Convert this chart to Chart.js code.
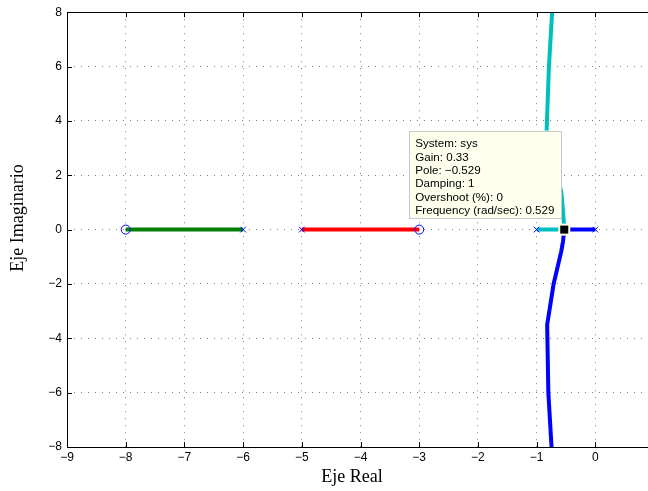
<!DOCTYPE html>
<html>
<head>
<meta charset="utf-8">
<script src="https://cdn.jsdelivr.net/npm/chart.js"></script>
<style>
  body { margin: 0; background: #fff; overflow: hidden; }
</style>
</head>
<body>
<canvas id="rlocus" width="670" height="491"></canvas>
<script>
// root locus data (real / imaginary parts)
const poleRe = [-6, -5, -1, 0];
const poleIm = [0, 0, 0, 0];
const zeroRe = [-8, -3];
const zeroIm = [0, 0];

const greenRe = [-6, -8];
const greenIm = [0, 0];
const redRe = [-5, -3];
const redIm = [0, 0];
const cyanRe = [-1, -0.529, -0.55, -0.58, -0.72, -0.83, -0.79, -0.73];
const cyanIm = [0, 0, 0.7, 1.4, 2.6, 3.6, 6, 8.2];
const blueRe = [0, -0.529, -0.55, -0.58, -0.71, -0.82, -0.8, -0.74];
const blueIm = [0, 0, -0.43, -0.8, -2, -3.5, -6, -8.2];

const xTicks = [-9, -8, -7, -6, -5, -4, -3, -2, -1, 0, 1];
const yTicks = [-8, -6, -4, -2, 0, 2, 4, 6, 8];

const tipRe = -0.529;
const tipIm = 0;
const tipLines = [
  "System: sys",
  "Gain: 0.33",
  "Pole: \u22120.529",
  "Damping: 1",
  "Overshoot (%): 0",
  "Frequency (rad/sec): 0.529",
];

function pts(re, im) {
  return re.map((v, i) => ({ x: v, y: im[i] }));
}

function lineSet(re, im, color) {
  return {
    data: pts(re, im),
    showLine: true,
    borderColor: color,
    borderWidth: 4,
    pointRadius: 0,
    pointHoverRadius: 0,
  };
}

const minus = (v) => String(v).replace("-", "\u2212");

const extras = {
  id: "extras",
  afterDatasetsDraw(chart) {
    const ctx = chart.ctx;
    const a = chart.chartArea;
    const xs = chart.scales.x;
    const ys = chart.scales.y;
    ctx.save();

    // inner ticks + box
    ctx.strokeStyle = "#000";
    ctx.lineWidth = 1;
    ctx.beginPath();
    xTicks.forEach((t) => {
      const px = Math.round(xs.getPixelForValue(t)) + 0.5;
      ctx.moveTo(px, a.bottom);
      ctx.lineTo(px, a.bottom - 5);
      ctx.moveTo(px, a.top);
      ctx.lineTo(px, a.top + 5);
    });
    yTicks.forEach((t) => {
      const py = Math.round(ys.getPixelForValue(t)) + 0.5;
      ctx.moveTo(a.left, py);
      ctx.lineTo(a.left + 5, py);
      ctx.moveTo(a.right, py);
      ctx.lineTo(a.right - 5, py);
    });
    ctx.stroke();
    ctx.strokeRect(Math.round(a.left) + 0.5, Math.round(a.top) + 0.5,
      Math.round(a.right - a.left), Math.round(a.bottom - a.top));

    // data tip marker
    const px = xs.getPixelForValue(tipRe);
    const py = ys.getPixelForValue(tipIm);
    ctx.fillStyle = "#ffffe6";
    ctx.fillRect(px - 6, py - 6, 12, 12);
    ctx.fillStyle = "#000";
    ctx.fillRect(px - 4, py - 4, 8, 8);

    // data tip box
    const bw = 152, bh = 87;
    const bx = px - 3 - bw;
    const by = py - 12 - bh;
    ctx.fillStyle = "#ffffee";
    ctx.fillRect(bx, by, bw, bh);
    ctx.strokeStyle = "#c8c8c8";
    ctx.strokeRect(Math.round(bx) + 0.5, Math.round(by) + 0.5, bw, bh);
    ctx.fillStyle = "#000";
    ctx.font = "11.6px 'Liberation Sans', Arial, sans-serif";
    ctx.textBaseline = "middle";
    ctx.textAlign = "left";
    tipLines.forEach((s, i) => {
      ctx.fillText(s, bx + 6, by + 13.5 + i * 13.3);
    });

    // axis titles
    ctx.font = "18px 'Liberation Serif', 'Times New Roman', serif";
    ctx.textAlign = "center";
    ctx.fillText("Eje Real", 352, 477);
    ctx.translate(18, 218);
    ctx.rotate(-Math.PI / 2);
    ctx.fillText("Eje Imaginario", 0, 0);
    ctx.restore();
  },
};

const tickFont = { family: "'Liberation Sans', Arial, sans-serif", size: 12 };

new Chart(document.getElementById("rlocus"), {
  type: "scatter",
  data: {
    datasets: [
      {
        data: pts(poleRe, poleIm),
        pointStyle: "crossRot",
        pointRadius: 4,
        borderColor: "#0000ff",
        borderWidth: 1,
      },
      {
        data: pts(zeroRe, zeroIm),
        pointStyle: "circle",
        pointRadius: 4.5,
        borderColor: "#0000ff",
        backgroundColor: "rgba(0,0,0,0)",
        borderWidth: 1,
      },
      lineSet(greenRe, greenIm, "#008000"),
      lineSet(redRe, redIm, "#ff0000"),
      lineSet(cyanRe, cyanIm, "#00bfbf"),
      lineSet(blueRe, blueIm, "#0000ff"),
    ],
  },
  options: {
    responsive: false,
    animation: false,
    devicePixelRatio: 1,
    layout: { padding: { top: 10, right: 16, left: 0, bottom: 0 } },
    plugins: { legend: { display: false }, tooltip: { enabled: false } },
    scales: {
      x: {
        type: "linear",
        min: -9,
        max: 1,
        afterBuildTicks: (s) => { s.ticks = xTicks.map((v) => ({ value: v })); },
        afterFit: (s) => { s.height = 44; },
        ticks: { color: "#000", font: tickFont, padding: 3, callback: minus, maxRotation: 0, autoSkip: false },
        grid: { color: "rgba(0,0,0,0.5)", drawTicks: false },
        border: { display: false, dash: [1, 6] },
      },
      y: {
        type: "linear",
        min: -8,
        max: 8,
        afterBuildTicks: (s) => { s.ticks = yTicks.map((v) => ({ value: v })); },
        afterFit: (s) => { s.width = 67; },
        ticks: { color: "#000", font: tickFont, padding: 5, callback: minus, autoSkip: false },
        grid: { color: "rgba(0,0,0,0.5)", drawTicks: false },
        border: { display: false, dash: [1, 6] },
      },
    },
  },
  plugins: [extras],
});
</script>
</body>
</html>
